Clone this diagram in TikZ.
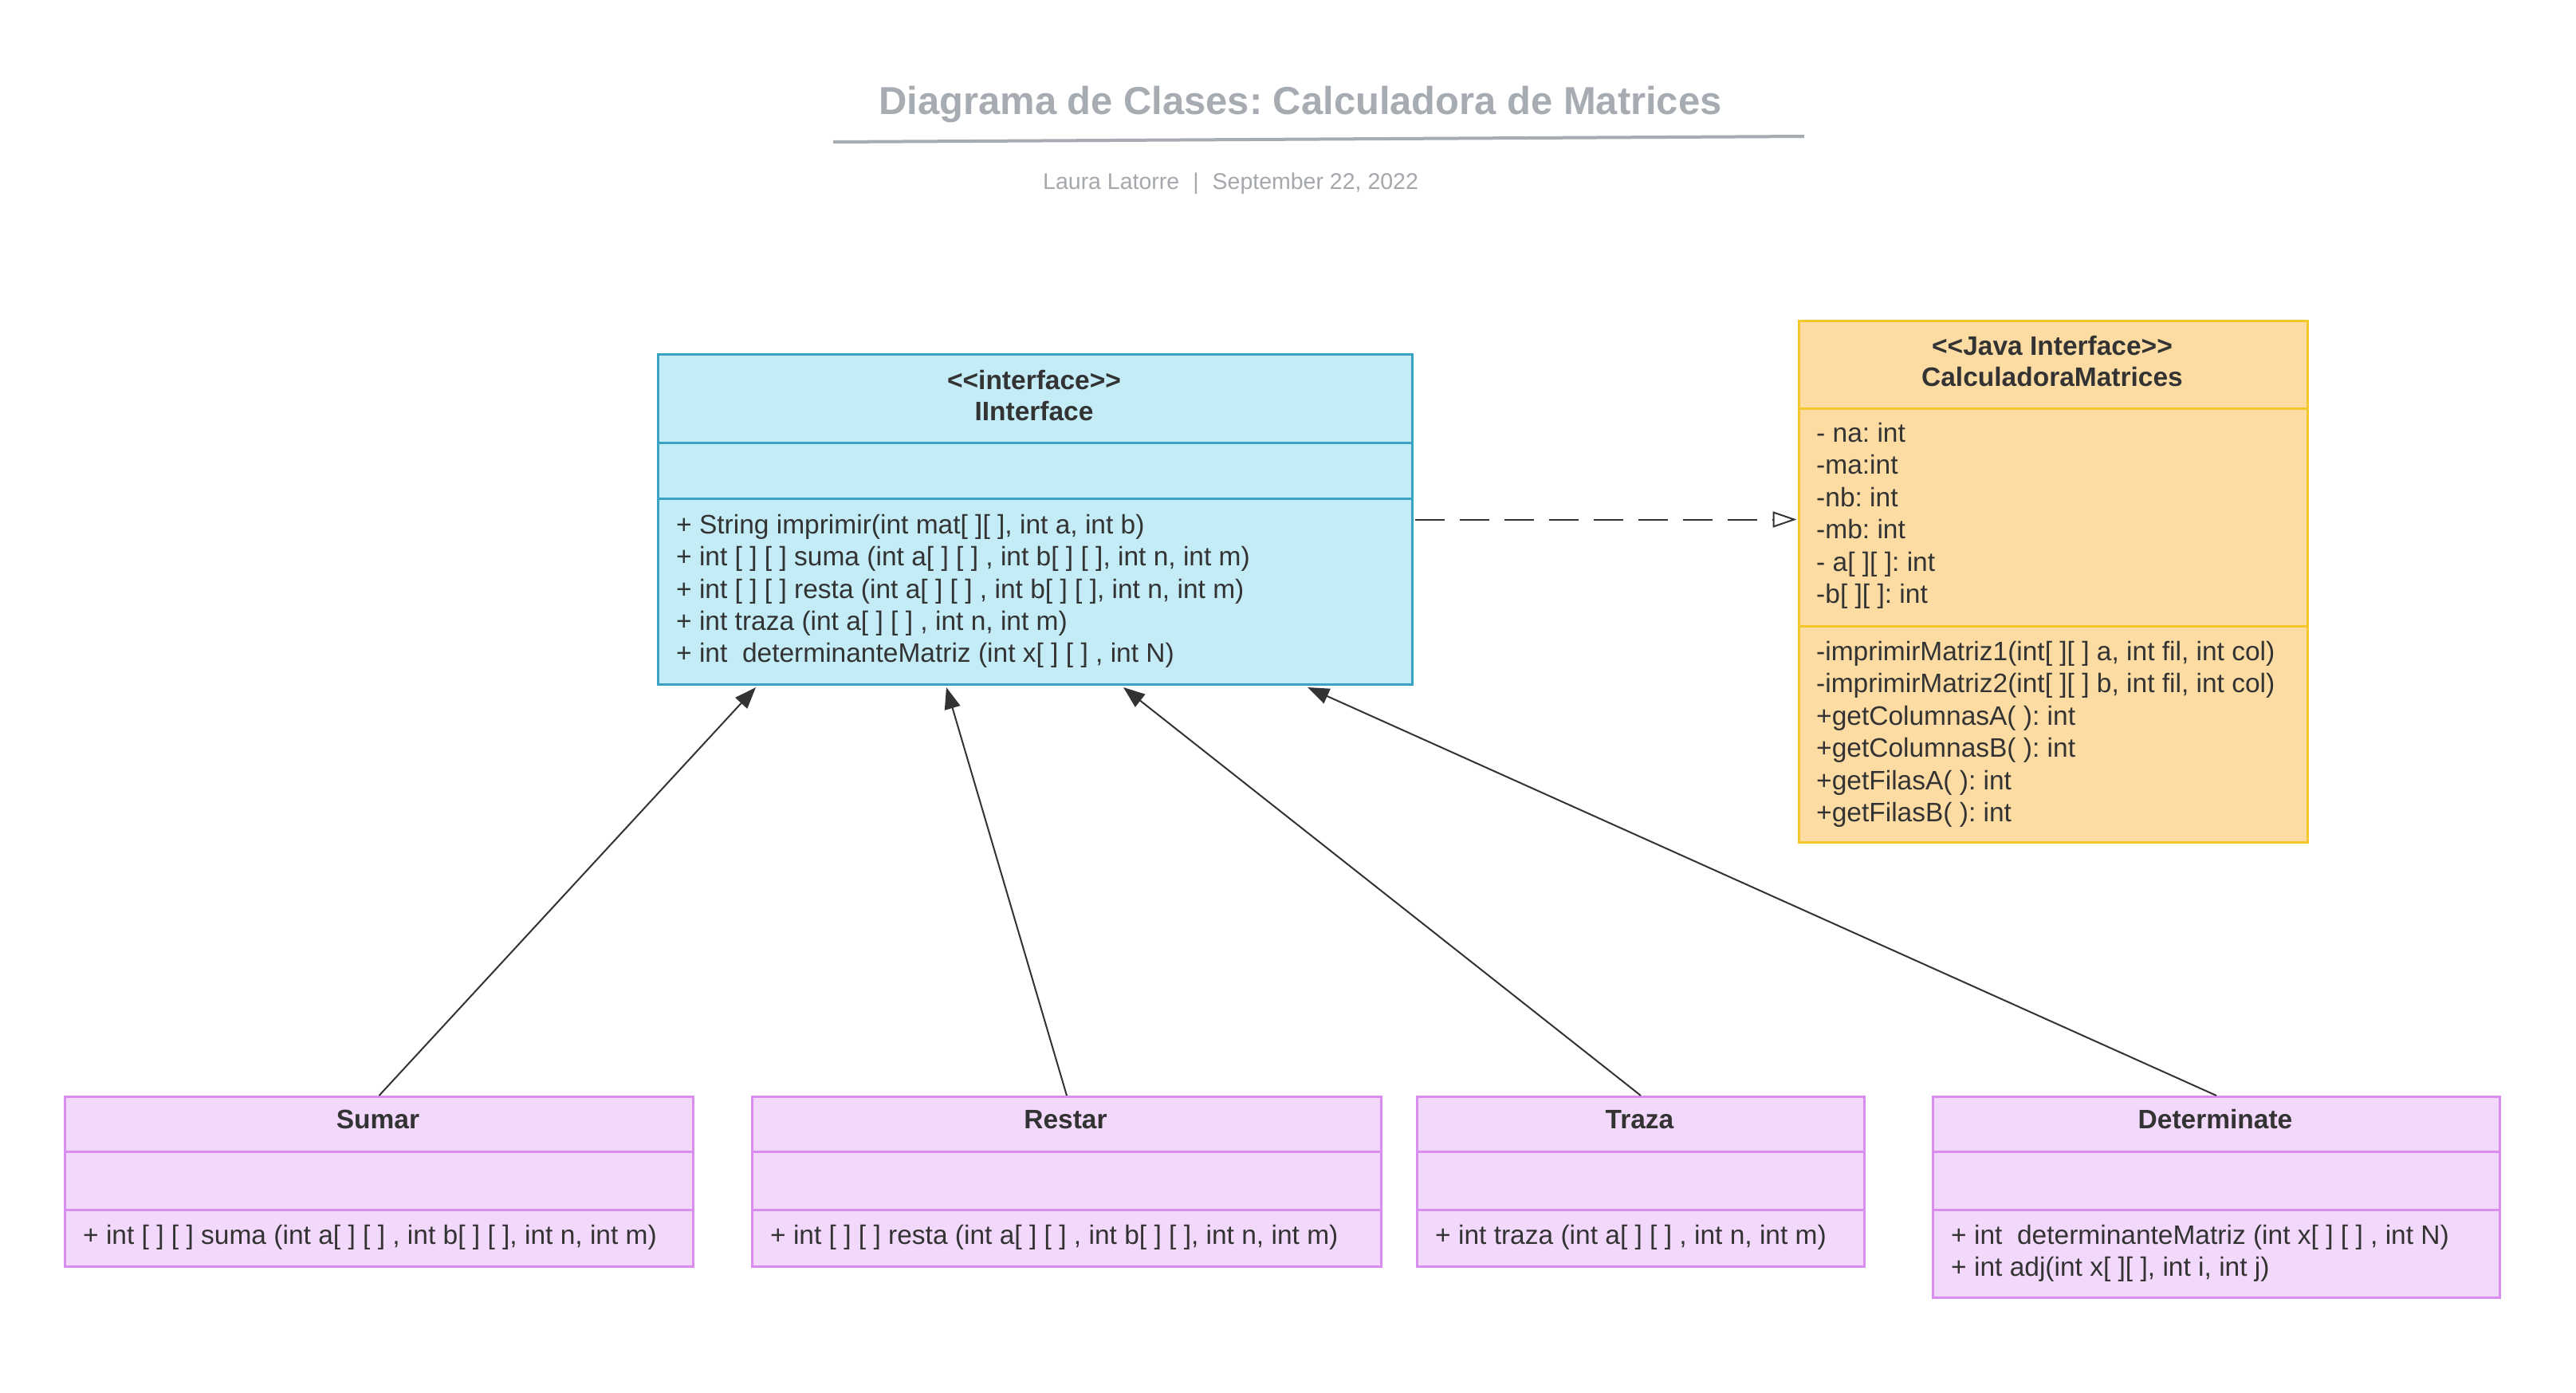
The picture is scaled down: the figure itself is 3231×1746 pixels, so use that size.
\documentclass[tikz,border=0pt]{standalone}
\usepackage{fontspec}
\setmainfont{Liberation Sans}
\usetikzlibrary{arrows.meta}
\definecolor{ink}{HTML}{333333}
\definecolor{iFill}{HTML}{C3ECF6}
\definecolor{iBorder}{HTML}{3AA2C2}
\definecolor{jFill}{HTML}{FDDCA4}
\definecolor{jBorder}{HTML}{F4C72C}
\definecolor{pFill}{HTML}{F2D8FB}
\definecolor{pBorder}{HTML}{D98DEE}
\definecolor{titleGray}{HTML}{A7ACB3}
\definecolor{subGray}{HTML}{A4A8AD}
\newcommand\fBody{\fontsize{33.5}{40.5}\selectfont}
\newcommand\fBold{\fontsize{33.5}{40.5}\selectfont\bfseries}
\newcommand\fTitle{\fontsize{48.9}{59}\selectfont\bfseries}
\newcommand\fSub{\fontsize{28.5}{34}\selectfont}
\newcommand\stLt{<\kern0pt}
\newcommand\stGt{>\kern0pt}
\tikzset{
  ibox/.style={draw=iBorder, fill=iFill, line width=3pt, inner sep=0pt, anchor=north west},
  jbox/.style={draw=jBorder, fill=jFill, line width=3pt, inner sep=0pt, anchor=north west},
  pbox/.style={draw=pBorder, fill=pFill, line width=3pt, inner sep=0pt, anchor=north west},
  iline/.style={draw=iBorder, line width=3pt},
  jline/.style={draw=jBorder, line width=3pt},
  pline/.style={draw=pBorder, line width=3pt},
  mtxt/.style={font=\fBody, text=ink, inner sep=0pt, anchor=base west},
  htxt/.style={font=\fBold, text=ink, inner sep=0pt, anchor=base},
  inherit/.style={draw=ink, line width=2pt, -{Triangle[length=27pt,width=20pt]}},
  realize/.style={draw=ink, line width=2pt, dash pattern=on 37pt off 19pt,
    -{Triangle[open,length=30pt,width=20pt,line width=2pt]}},
}
\begin{document}
\frenchspacing
\begin{tikzpicture}[x=1pt,y=-1pt]
\useasboundingbox[fill=white] (0,0) rectangle (3231,1746);

% title
\node[font=\fTitle, text=titleGray, inner sep=0pt, anchor=base] (title) at (1631,143) {Diagrama de Clases: Calculadora de Matrices};
\coordinate (ulA) at (1045,178);
\coordinate (ulB) at (2263,171);
\draw[titleGray, line width=4pt] (ulA) -- (ulB);
\node[font=\fSub, text=subGray, inner sep=0pt, anchor=base west] (subtitle) at (1308,237) {Laura Latorre\hspace{17pt}|\hspace{17pt}September 22, 2022};

% IInterface
\node[ibox, minimum width=946pt, minimum height=414pt] (iface) at (824,443) {};
\draw[iline] (iface.west |- 0,555) -- (iface.east |- 0,555);
\draw[iline] (iface.west |- 0,625) -- (iface.east |- 0,625);
\node[htxt] (ifh1) at (1297,488) {\stLt\stLt interface\stGt\stGt};
\node[htxt] (ifh2) at (1297,527) {IInterface};
\node[mtxt] (ifm1) at (848,669) {+ String imprimir(int mat[ ][ ], int a, int b)};
\node[mtxt] (ifm2) at (848,709.5) {+ int [ ] [ ] suma (int a[ ] [ ] , int b[ ] [ ], int n, int m)};
\node[mtxt] (ifm3) at (848,750) {+ int [ ] [ ] resta (int a[ ] [ ] , int b[ ] [ ], int n, int m)};
\node[mtxt] (ifm4) at (848,790) {+ int traza (int a[ ] [ ] , int n, int m)};
\node[mtxt] (ifm5) at (848,830) {+ int\ \ determinanteMatriz (int x[ ] [ ] , int N)};

% CalculadoraMatrices
\node[jbox, minimum width=638pt, minimum height=654pt] (java) at (2255,401) {};
\draw[jline] (java.west |- 0,512) -- (java.east |- 0,512);
\draw[jline] (java.west |- 0,785) -- (java.east |- 0,785);
\node[htxt] (jh1) at (2574,445) {\stLt\stLt Java Interface\stGt\stGt};
\node[htxt] (jh2) at (2574,484) {CalculadoraMatrices};
\node[mtxt] (ja1) at (2278,554) {- na: int};
\node[mtxt] (ja2) at (2278,594.5) {-ma:int};
\node[mtxt] (ja3) at (2278,635) {-nb: int};
\node[mtxt] (ja4) at (2278,675.5) {-mb: int};
\node[mtxt] (ja5) at (2278,716) {- a[ ][ ]: int};
\node[mtxt] (ja6) at (2278,756.5) {-b[ ][ ]: int};
\node[mtxt] (jm1) at (2278,828) {-imprimirMatriz1(int[ ][ ] a, int fil, int col)};
\node[mtxt] (jm2) at (2278,868.5) {-imprimirMatriz2(int[ ][ ] b, int fil, int col)};
\node[mtxt] (jm3) at (2278,909) {+getColumnasA( ): int};
\node[mtxt] (jm4) at (2278,949.5) {+getColumnasB( ): int};
\node[mtxt] (jm5) at (2278,990) {+getFilasA( ): int};
\node[mtxt] (jm6) at (2278,1030.5) {+getFilasB( ): int};

% Sumar
\node[pbox, minimum width=788pt, minimum height=213pt] (sumar) at (80,1374) {};
\draw[pline] (sumar.west |- 0,1444) -- (sumar.east |- 0,1444);
\draw[pline] (sumar.west |- 0,1517) -- (sumar.east |- 0,1517);
\node[htxt] (sumarh) at (474,1415) {Sumar};
\node[mtxt] (sumarm) at (104,1560) {+ int [ ] [ ] suma (int a[ ] [ ] , int b[ ] [ ], int n, int m)};

% Restar
\node[pbox, minimum width=789pt, minimum height=213pt] (restar) at (942,1374) {};
\draw[pline] (restar.west |- 0,1444) -- (restar.east |- 0,1444);
\draw[pline] (restar.west |- 0,1517) -- (restar.east |- 0,1517);
\node[htxt] (restarh) at (1336.5,1415) {Restar};
\node[mtxt] (restarm) at (966,1560) {+ int [ ] [ ] resta (int a[ ] [ ] , int b[ ] [ ], int n, int m)};

% Traza
\node[pbox, minimum width=561pt, minimum height=213pt] (traza) at (1776,1374) {};
\draw[pline] (traza.west |- 0,1444) -- (traza.east |- 0,1444);
\draw[pline] (traza.west |- 0,1517) -- (traza.east |- 0,1517);
\node[htxt] (trazah) at (2056.5,1415) {Traza};
\node[mtxt] (trazam) at (1800,1560) {+ int traza (int a[ ] [ ] , int n, int m)};

% Determinate
\node[pbox, minimum width=711pt, minimum height=252pt] (deter) at (2423,1374) {};
\draw[pline] (deter.west |- 0,1444) -- (deter.east |- 0,1444);
\draw[pline] (deter.west |- 0,1517) -- (deter.east |- 0,1517);
\node[htxt] (deterh) at (2778.5,1415) {Determinate};
\node[mtxt] (determ1) at (2447,1560) {+ int\ \ determinanteMatriz (int x[ ] [ ] , int N)};
\node[mtxt] (determ2) at (2447,1600) {+ int adj(int x[ ][ ], int i, int j)};

% connectors
\draw[inherit] (sumar.north) -- ([xshift=124pt,yshift=-2pt]iface.south west);
\draw[inherit] (restar.north) -- ([xshift=363pt,yshift=-2pt]iface.south west);
\draw[inherit] (traza.north) -- ([xshift=585pt,yshift=-2pt]iface.south west);
\draw[inherit] (deter.north) -- ([xshift=816pt,yshift=-2pt]iface.south west);
\draw[realize] ([xshift=1.5pt]iface.east) -- ([xshift=-1.5pt]iface.east -| java.west);
\end{tikzpicture}
\end{document}
